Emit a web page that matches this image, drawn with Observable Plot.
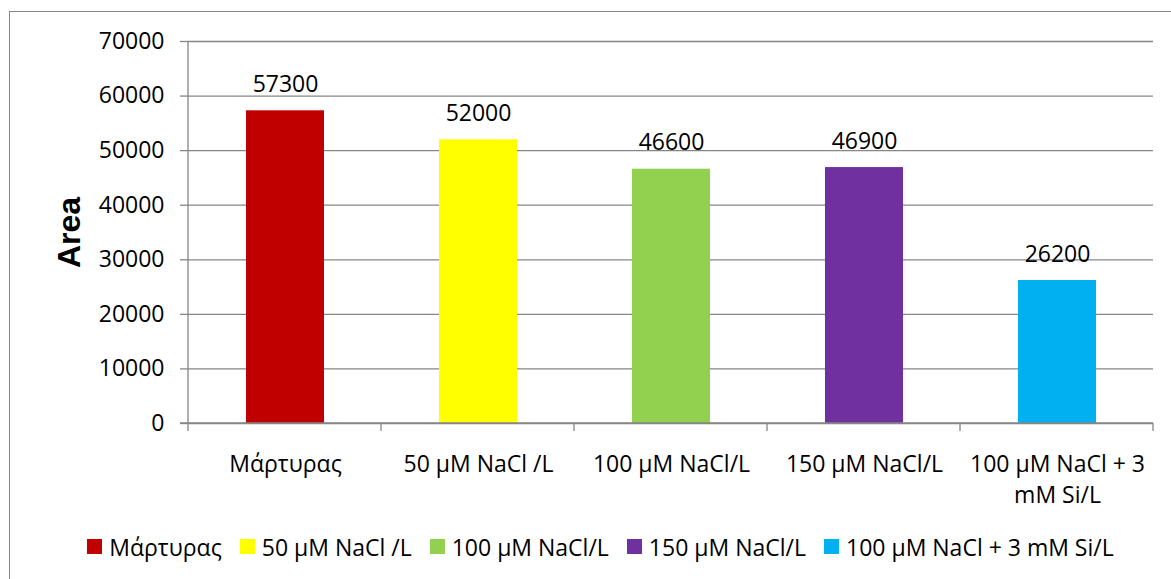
<!DOCTYPE html>
<html>
<head>
<meta charset="utf-8">
<script src="https://cdn.jsdelivr.net/npm/d3@7"></script>
<script src="https://cdn.jsdelivr.net/npm/@observablehq/plot@0.6"></script>
<style>
  html, body { margin: 0; padding: 0; background: #fff; overflow: hidden; }
  #page { position: relative; width: 1171px; height: 579px; overflow: hidden; font-family: "Open Sans", sans-serif; }
  #frame { position: absolute; left: 9px; top: 11px; width: 1220px; height: 620px; border: 1.5px solid #878787; box-sizing: border-box; }
  #chart { position: absolute; left: 0; top: 0; }
  #legend { position: absolute; left: 0; top: 530px; width: 1201px; display: flex; justify-content: center; }
  #legend .lg-swatches { justify-content: center; }
  #legend .lg-swatch { margin-right: 18px !important; }
  #legend .lg-swatch:last-child { margin-right: 0 !important; }
  #legend .lg-swatch > svg { margin-right: 7px !important; }
</style>
</head>
<body>
<div id="page">
  <div id="frame"></div>
  <div id="chart"></div>
  <div id="legend"></div>
</div>
<script>
// Treatments, their measured area and the fill of each bar
const categories = ["Μάρτυρας", "50 μM NaCl /L", "100 μM NaCl/L", "150 μM NaCl/L", "100 μM NaCl + 3 mM Si/L"];
const values = [57300, 52000, 46600, 46900, 26200];
const colors = ["#C00000", "#FFFF00", "#92D050", "#7030A0", "#00B0F0"];
const yTicks = [0, 10000, 20000, 30000, 40000, 50000, 60000, 70000];
// Axis labels, with the long one broken onto two lines
const axisLabels = ["Μάρτυρας", "50 μM NaCl /L", "100 μM NaCl/L", "150 μM NaCl/L", "100 μM NaCl + 3\nmM Si/L"];

const data = categories.map((c, i) => ({cat: c, value: values[i]}));
const labelOf = new Map(categories.map((c, i) => [c, axisLabels[i]]));

const gray = "#868686";
const W = 1171, H = 515;
const M = {left: 188, right: 18, top: 41, bottom: 92};

// Axis lines and the category boundary ticks under the x axis
function axisFrame(index, scales, values, dims) {
  const {width, height, marginLeft, marginRight, marginTop, marginBottom} = dims;
  const x0 = marginLeft, x1 = width - marginRight;
  const yb = height - marginBottom;
  const n = categories.length;
  const step = (x1 - x0) / n;
  const g = d3.create("svg:g").attr("stroke", gray).attr("stroke-width", 1.3);
  g.append("line").attr("x1", x0).attr("x2", x0).attr("y1", marginTop).attr("y2", yb);
  g.append("line").attr("x1", x0 - 8).attr("x2", x1).attr("y1", yb).attr("y2", yb);
  for (let i = 0; i <= n; ++i) {
    const x = x0 + i * step;
    g.append("line").attr("x1", x).attr("x2", x).attr("y1", yb).attr("y2", yb + 8);
  }
  return g.node();
}

const chart = Plot.plot({
  width: W,
  height: H,
  marginLeft: M.left,
  marginRight: M.right,
  marginTop: M.top,
  marginBottom: M.bottom,
  style: {fontFamily: "'Open Sans', sans-serif", color: "#000", background: "transparent", overflow: "visible"},
  x: {domain: categories, paddingInner: 0.596, paddingOuter: 0.298},
  y: {domain: [0, 70000]},
  color: {domain: categories, range: colors},
  marks: [
    Plot.gridY(yTicks, {stroke: gray, strokeOpacity: 1, strokeWidth: 1.3}),
    Plot.axisY(yTicks, {tickSize: 8, tickPadding: 16, stroke: gray, strokeWidth: 1.3, fontSize: 23, tickFormat: d => String(d), label: null}),
    Plot.axisX({tickSize: 0, tickPadding: 26, fontSize: 23, lineHeight: 1.37, tickFormat: c => labelOf.get(c), label: null}),
    Plot.barY(data, {x: "cat", y: "value", fill: "cat"}),
    axisFrame,
    Plot.text(data, {x: "cat", y: "value", text: d => String(d.value), lineAnchor: "bottom", dy: -19, fontSize: 23, fill: "#000"}),
    Plot.text(["Area"], {frameAnchor: "left", rotate: -90, dx: -109, textAnchor: "middle", lineAnchor: "bottom",
      fontSize: 32, fontWeight: "bold", fontFamily: "'Liberation Sans', Arial, sans-serif", fill: "#000"})
  ]
});
document.getElementById("chart").append(chart);

const legend = Plot.legend({
  color: {domain: categories, range: colors},
  legend: "swatches",
  swatchSize: 15,
  className: "lg",
  style: {fontFamily: "'Open Sans', sans-serif", fontSize: "23px", color: "#000"}
});
document.getElementById("legend").append(legend);
</script>
</body>
</html>
